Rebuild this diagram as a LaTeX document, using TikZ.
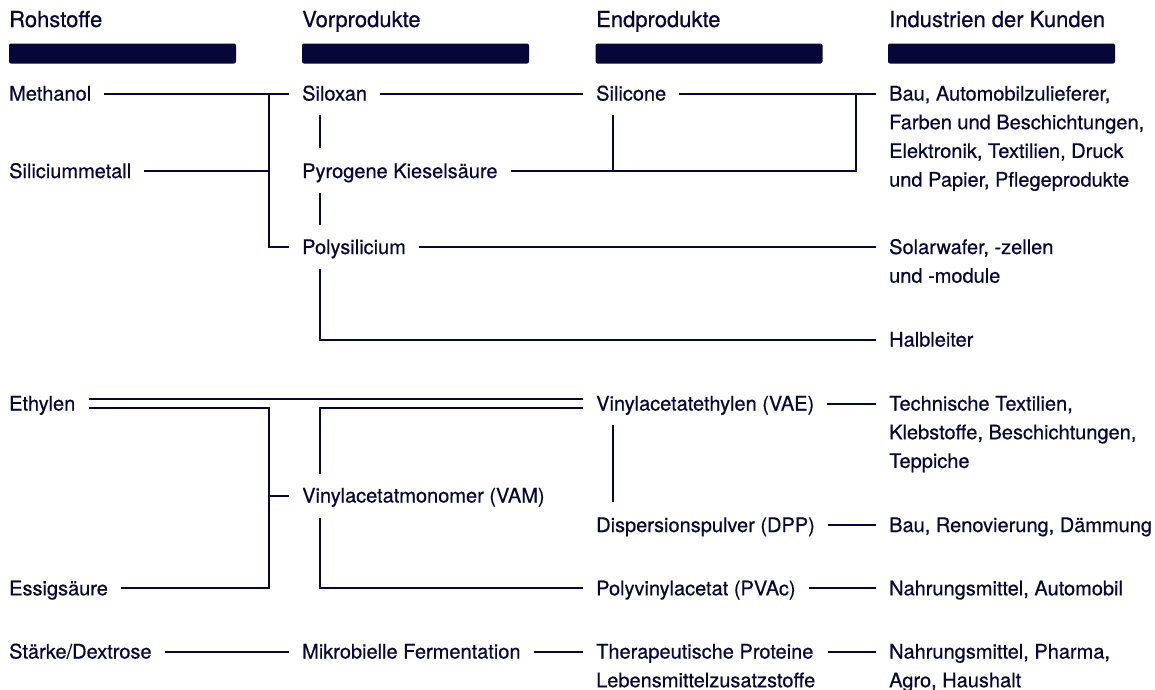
\documentclass[tikz,border=0pt]{standalone}
\usepackage{fontspec}
\setmainfont{TeX Gyre Heros}[FakeBold=0.5]
\usetikzlibrary{calc}
\definecolor{ink}{RGB}{6,6,56}
\newcommand\stk[1]{\vtop{\baselineskip=28.7pt\lineskiplimit=-100pt\lineskip=0pt #1}}
\begin{document}
\begin{tikzpicture}[x=1pt,y=-1pt,
  txt/.style={anchor=base west, inner xsep=13pt, inner ysep=0pt, text height=14pt, text depth=0pt, font=\fontsize{20}{28.7}\selectfont, text=ink},
  hdr/.style={anchor=base west, inner sep=0pt, font=\fontsize{22}{26}\selectfont, text=ink},
  bar/.style={fill=ink, rounded corners=2pt},
  con/.style={draw=ink, line width=2pt}]
\useasboundingbox (0,0) rectangle (1155,689);
\fill[white] (0,0) rectangle (1155,689);

% headers
\node[hdr] (h1) at (9,27) {Rohstoffe};
\node[hdr] (h2) at (302,27) {Vorprodukte};
\node[hdr] (h3) at (596,27) {Endprodukte};
\node[hdr] (h4) at (889,27) {Industrien der Kunden};
\path[bar] (9,43.5) rectangle ++(227,20);
\path[bar] (302,43.5) rectangle ++(227,20);
\path[bar] (595.5,43.5) rectangle ++(227,20);
\path[bar] (888,43.5) rectangle ++(227,20);

% column 1
\node[txt] (meth) at (-4,100.5) {Methanol};
\node[txt] (simet) at (-4,178) {Siliciummetall};
\node[txt] (ethyl) at (-4,410.5) {Ethylen};
\node[txt] (essig) at (-4,595.3) {Essigsäure};
\node[txt] (staerke) at (-4,658.5) {Stärke/Dextrose};

% column 2
\node[txt] (siloxan) at (289,100.5) {Siloxan};
\node[txt] (pyro) at (289,178) {Pyrogene Kieselsäure};
\node[txt] (poly) at (289,254) {Polysilicium};
\node[txt] (vam) at (289,502.5) {Vinylacetatmonomer (VAM)};
\node[txt] (mikro) at (289,658.5) {Mikrobielle Fermentation};

% column 3
\node[txt] (silicone) at (583,100.5) {Silicone};
\node[txt] (vae) at (583,410.5) {Vinylacetatethylen (VAE)};
\node[txt] (dpp) at (583,532) {Dispersionspulver (DPP)};
\node[txt] (pvac) at (583,595.3) {Polyvinylacetat (PVAc)};
\node[txt] (ther) at (583,658.5) {\stk{\hbox{Therapeutische Proteine}\hbox{Lebensmittelzusatzstoffe}}};

% column 4
\node[txt] (bau) at (876,100.5) {\stk{\hbox{Bau, Automobilzulieferer,}\hbox{Farben und Beschichtungen,}\hbox{Elektronik, Textilien, Druck}\hbox{und Papier, Pflegeprodukte}}};
\node[txt] (solar) at (876,254) {\stk{\hbox{Solarwafer, -zellen}\hbox{und -module}}};
\node[txt] (halb) at (876,346.5) {Halbleiter};
\node[txt] (tech) at (876,410.5) {\stk{\hbox{Technische Textilien,}\hbox{Klebstoffe, Beschichtungen,}\hbox{Teppiche}}};
\node[txt] (baur) at (876,532) {Bau, Renovierung, Dämmung};
\node[txt] (nahr) at (876,595.3) {Nahrungsmittel, Automobil};
\node[txt] (nahr2) at (876,658.5) {\stk{\hbox{Nahrungsmittel, Pharma,}\hbox{Agro, Haushalt}}};

% junction x positions
\coordinate (jA) at (269,0);
\coordinate (cx) at (320,0);
\coordinate (ex) at (612.5,0);
\coordinate (jS) at (856,0);

% silicon chain
\draw[con] (meth.east) -- (siloxan.west);
\draw[con] (simet.east) -- (jA |- simet.east);
\draw[con] (jA |- meth.east) -- (jA |- poly.west) -- (poly.west);
\draw[con] ($(cx |- siloxan.west)+(0,21.5)$) -- ($(cx |- pyro.west)+(0,-23)$);
\draw[con] ($(cx |- pyro.west)+(0,21.5)$) -- ($(cx |- poly.west)+(0,-22)$);
\draw[con] (siloxan.east) -- (silicone.west);
\draw[con] (silicone.east) -- (bau.west);
\draw[con] (jS |- silicone.east) -- (jS |- pyro.east) -- (pyro.east);
\draw[con] ($(ex |- silicone.west)+(0,21.5)$) -- (ex |- pyro.east);
\draw[con] (poly.east) -- (solar.west);
\draw[con] ($(cx |- poly.west)+(0,21.5)$) |- (halb.west);

% vinyl acetate chain
\draw[con] ([yshift=4.5pt]ethyl.east) -- ([yshift=4.5pt]vae.west);
\draw[con] ([yshift=-4.5pt]ethyl.east) -| (jA |- essig.east) -- (essig.east);
\draw[con] (jA |- vam.west) -- (vam.west);
\draw[con] ($(cx |- vam.west)+(0,-22)$) |- ([yshift=-4.5pt]vae.west);
\draw[con] ($(cx |- vam.west)+(0,22)$) |- (pvac.west);
\draw[con] ($(ex |- vae.west)+(0,21.5)$) -- ($(ex |- dpp.west)+(0,-23)$);
\draw[con] (vae.east) -- (tech.west);
\draw[con] (dpp.east) -- (baur.west);
\draw[con] (pvac.east) -- (nahr.west);

% fermentation chain
\draw[con] (staerke.east) -- (mikro.west);
\draw[con] (mikro.east) -- (ther.west);
\draw[con] (ther.east) -- (nahr2.west);
\end{tikzpicture}
\end{document}
